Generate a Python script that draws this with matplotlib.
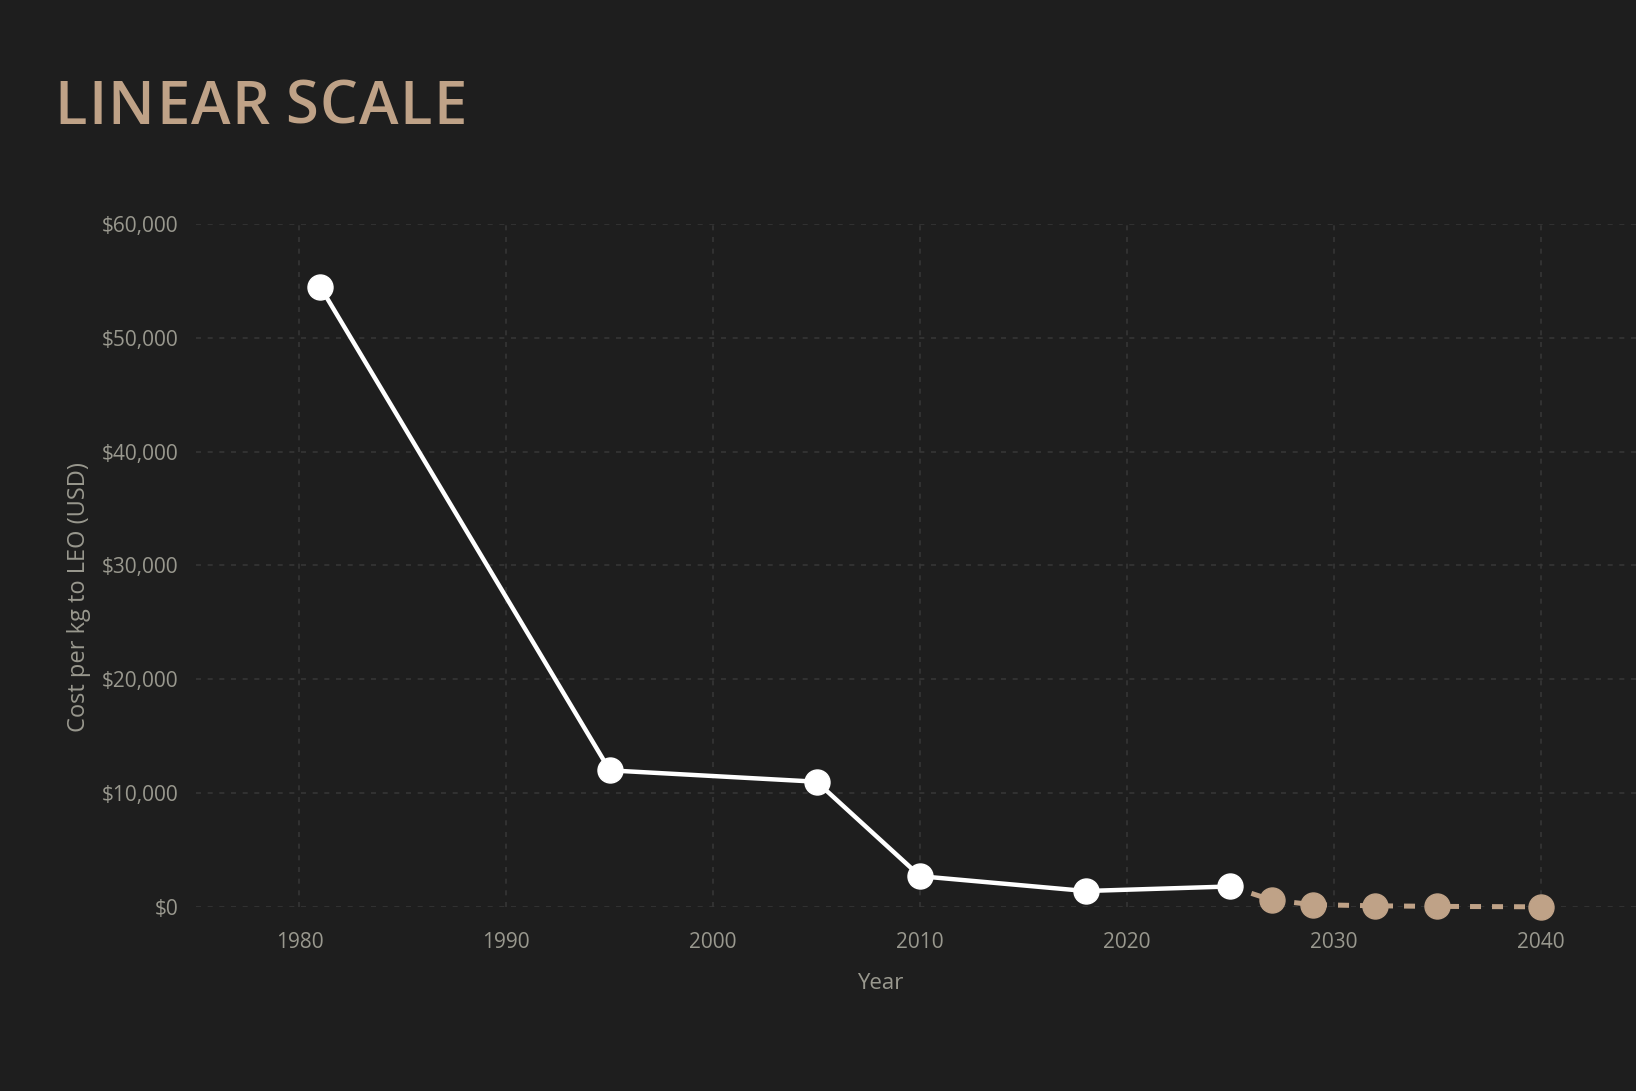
import matplotlib.pyplot as plt
from matplotlib.ticker import FuncFormatter

# Coste por kg a LEO (USD)
years_hist = [1981, 1995, 2005, 2010, 2018, 2025]
cost_hist = [54500, 12000, 11000, 2700, 1400, 1800]

years_proj = [2025, 2027, 2029, 2032, 2035, 2040]
cost_proj = [1800, 600, 200, 100, 50, 10]

x_ticks = [1980, 1990, 2000, 2010, 2020, 2030, 2040]
y_ticks = [0, 10000, 20000, 30000, 40000, 50000, 60000]

title = 'LINEAR SCALE'

bg = '#1e1e1e'
tan = '#bfa287'
txt = '#99988e'
grid_c = '#363636'

plt.rcParams['font.family'] = ['Open Sans', 'DejaVu Sans']

fig = plt.figure(figsize=(16.36, 10.91), dpi=100, facecolor=bg)
ax = fig.add_axes([0.1198, 0.1687, 0.8802, 0.626], facecolor=bg)

# proyección (punteada) debajo de la serie histórica
ax.plot(years_proj, cost_proj, '--', color=tan, lw=3.6, dashes=(2.2, 2.2),
        zorder=3, clip_on=False)
ax.plot(years_proj[1:], cost_proj[1:], 'o', color=tan, ms=18, zorder=4,
        clip_on=False)
ax.plot(years_hist, cost_hist, '-', color='white', lw=3.2, marker='o',
        ms=18, mfc='white', mec='white', zorder=5, clip_on=False)

ax.set_xlim(1975, 2044.6)
ax.set_ylim(0, 60000)
ax.set_xticks(x_ticks)
ax.set_yticks(y_ticks)
ax.yaxis.set_major_formatter(FuncFormatter(lambda v, p: f'${v:,.0f}'))

ax.grid(True, color=grid_c, ls=(0, (3, 4)), lw=1.2)
ax.set_axisbelow(True)
for s in ax.spines.values():
    s.set_visible(False)
ax.tick_params(length=0, colors=txt, labelsize=15)
ax.tick_params(axis='x', pad=18)
ax.tick_params(axis='y', pad=12.5)

ax.set_xlabel('Year', color=txt, fontsize=16, labelpad=12)
ax.set_ylabel('Cost per kg to LEO (USD)', color=txt, fontsize=17, labelpad=14)
ax.xaxis.set_label_coords(0.475, -0.096)
ax.yaxis.set_label_coords(-0.073, 0.454)

# título con espaciado entre letras
fig.canvas.draw()
renderer = fig.canvas.get_renderer()
x = 54
for ch in title:
    t = fig.text(x / 1636, 1 - 124 / 1091, ch, color=tan, fontsize=43,
                 fontweight='semibold', va='baseline')
    w = t.get_window_extent(renderer).width if ch != ' ' else 12
    x += w + 1.5

fig.savefig('out.png', dpi=100, facecolor=bg)
